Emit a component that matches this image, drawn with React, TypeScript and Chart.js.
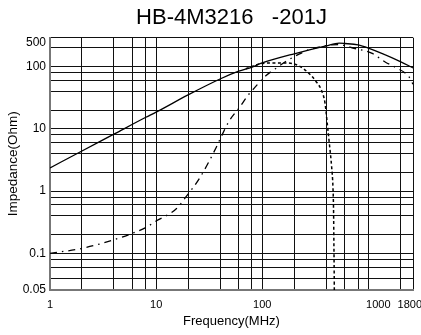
import React, { useEffect, useRef } from "react";
import { Chart, registerables } from "chart.js";

Chart.register(...registerables);

const TITLE = "HB-4M3216   -201J";
const X_TITLE = "Frequency(MHz)";
const Y_TITLE = "Impedance(Ohm)";

const X_MIN = 1;
const X_MAX = 2632;
const Y_MIN = 0.0258;
const Y_MAX = 290;

const X_GRID = [1, 2, 4, 6, 8, 10, 20, 40, 60, 80, 100, 200, 400, 600, 800, 1000, 2000, 2632];
const X_LABEL_VALUES = [1, 10, 100, 1240, 2455];
const X_LABELS = ["1", "10", "100", "1000", "1800"];

const Y_GRID = [0.0258, 0.04, 0.06, 0.08, 0.1, 0.2, 0.4, 0.6, 0.8, 1, 2, 4, 6, 8, 10, 20, 40, 60, 80, 100, 200, 290];
const Y_LABEL_VALUES = [0.0258, 0.1, 1, 10, 100, 240];
const Y_LABELS = ["0.05", "0.1", "1", "10", "100", "500"];

// |Z| (solid)
const Z_FREQ = [1, 2, 4, 8, 10, 20, 40, 60, 80, 100, 200, 400, 530, 600, 800, 1000, 2000, 2632];
const Z_VAL = [2.35, 4.4, 8.2, 15.3, 18.5, 35, 63, 84, 98, 114, 160, 214, 237, 234, 222, 197, 120, 95];

// R (dash-dot)
const R_FREQ = [1, 2, 4, 6, 8, 10, 15.5, 19, 25.6, 37, 40, 49, 61, 73, 86, 108, 135, 161, 222, 286, 528, 700, 1086, 1450, 1800, 2400, 2632];
const R_VAL = [0.1, 0.12, 0.165, 0.21, 0.26, 0.33, 0.52, 0.8, 1.6, 5.1, 6.8, 13.5, 22, 34, 47, 71, 94, 116, 158, 190, 225, 200, 162, 117, 97, 69, 52];

// X (dotted)
const X_FREQ = [70, 80, 90, 120, 160, 200, 222, 270, 320, 360, 390, 410, 430, 450, 464, 470, 473, 476, 478];
const X_VAL = [92, 100, 108, 114, 114, 110, 102, 80, 58, 42, 26, 12, 5.5, 2.5, 1.1, 0.45, 0.15, 0.05, 0.02];

const FONT = "'Liberation Sans', Arial, Helvetica, sans-serif";

const near = (a: number, b: number) => Math.abs(a - b) / Math.max(Math.abs(b), 1e-9) < 1e-6;
const inList = (v: number, list: number[]) => list.some((x) => near(v, x));
const labelFor = (v: number, vals: number[], labels: string[]) => {
  const i = vals.findIndex((x) => near(v, x));
  return i >= 0 ? labels[i] : "";
};

const pts = (xs: number[], ys: number[]) => xs.map((x, i) => ({ x, y: ys[i] }));

export default function App() {
  const ref = useRef<HTMLCanvasElement | null>(null);

  useEffect(() => {
    if (!ref.current) return;
    const xTicks = Array.from(new Set([...X_GRID, ...X_LABEL_VALUES])).sort((a, b) => a - b);
    const yTicks = Array.from(new Set([...Y_GRID, ...Y_LABEL_VALUES])).sort((a, b) => a - b);

    const chart = new Chart(ref.current, {
      type: "line",
      data: {
        datasets: [
          {
            label: "Z",
            data: pts(Z_FREQ, Z_VAL),
            borderColor: "#000",
            borderWidth: 1.3,
            pointRadius: 0,
            cubicInterpolationMode: "monotone",
            fill: false,
          },
          {
            label: "R",
            data: pts(R_FREQ, R_VAL),
            borderColor: "#000",
            borderWidth: 1.3,
            borderDash: [7, 5, 1.5, 5],
            pointRadius: 0,
            cubicInterpolationMode: "monotone",
            fill: false,
          },
          {
            label: "X",
            data: pts(X_FREQ, X_VAL),
            borderColor: "#000",
            borderWidth: 1.5,
            borderDash: [3, 2.5],
            pointRadius: 0,
            cubicInterpolationMode: "monotone",
            fill: false,
          },
        ],
      },
      options: {
        animation: false,
        responsive: true,
        maintainAspectRatio: false,
        layout: { autoPadding: false, padding: { top: 0, left: 0, right: 6.7, bottom: 0 } },
        plugins: {
          legend: { display: false },
          tooltip: { enabled: false },
          title: {
            display: true,
            text: TITLE,
            fullSize: false,
            color: "#000",
            font: { family: FONT, size: 22, weight: "normal", lineHeight: 1.2 },
            padding: { top: 5.1, bottom: 6.2 },
          },
        },
        scales: {
          x: {
            type: "logarithmic",
            min: X_MIN,
            max: X_MAX,
            afterBuildTicks: (s: any) => {
              s.ticks = xTicks.map((v) => ({ value: v }));
            },
            afterFit: (s: any) => {
              s.height = 45;
            },
            ticks: {
              autoSkip: false,
              maxRotation: 0,
              padding: 8,
              color: "#000",
              font: { family: FONT, size: 11 },
              callback: (v: any) => labelFor(Number(v), X_LABEL_VALUES, X_LABELS),
            },
            grid: {
              drawTicks: false,
              lineWidth: 1,
              color: (ctx: any) => (ctx.tick && inList(ctx.tick.value, X_GRID) ? "#111" : "rgba(0,0,0,0)"),
            },
            border: { display: true, color: "#777", width: 2 },
            title: {
              display: true,
              text: X_TITLE,
              color: "#000",
              font: { family: FONT, size: 13 },
              padding: { top: 0, bottom: 6 },
            },
          },
          y: {
            type: "logarithmic",
            min: Y_MIN,
            max: Y_MAX,
            afterBuildTicks: (s: any) => {
              s.ticks = yTicks.map((v) => ({ value: v }));
            },
            afterFit: (s: any) => {
              s.width = 50;
            },
            ticks: {
              autoSkip: false,
              padding: 4,
              color: "#000",
              font: { family: FONT, size: 12 },
              callback: (v: any) => labelFor(Number(v), Y_LABEL_VALUES, Y_LABELS),
            },
            grid: {
              drawTicks: false,
              lineWidth: 1,
              color: (ctx: any) => (ctx.tick && inList(ctx.tick.value, Y_GRID) ? "#111" : "rgba(0,0,0,0)"),
            },
            border: { display: true, color: "#777", width: 2 },
            title: {
              display: true,
              text: Y_TITLE,
              color: "#000",
              font: { family: FONT, size: 13.5 },
              padding: { top: 5, bottom: 0 },
            },
          },
        },
      },
    } as any);
    return () => chart.destroy();
  }, []);

  return (
    <div style={{ position: "fixed", left: 0, top: 0, width: 421, height: 335, background: "#fff" }}>
      <canvas ref={ref} />
    </div>
  );
}
